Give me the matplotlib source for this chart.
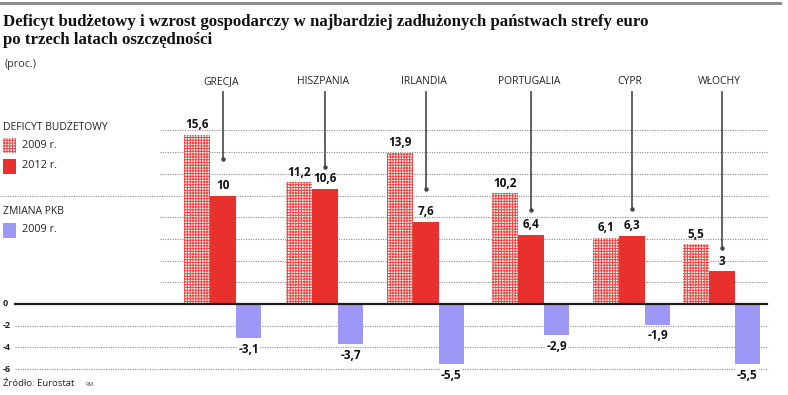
import matplotlib
matplotlib.use("Agg")
import matplotlib.pyplot as plt
from matplotlib.patches import Rectangle

# ---- data ----
countries = ["GRECJA", "HISZPANIA", "IRLANDIA", "PORTUGALIA", "CYPR", "WŁOCHY"]
deficit_2009 = [15.6, 11.2, 13.9, 10.2, 6.1, 5.5]
deficit_2012 = [10.0, 10.6, 7.6, 6.4, 6.3, 3.0]
gdp_2009 = [-3.1, -3.7, -5.5, -2.9, -1.9, -5.5]
ytick_vals = [0, -2, -4, -6]
ytick_labels = ["0", "-2", "-4", "-6"]
grid_pos = [2, 4, 6, 8, 10, 12, 14, 16]

# ---- layout ----
W, H = 788, 395
ZERO_PX = 304.0
PX_PER_UNIT = 10.85
group_left = [184, 286, 387, 492, 593, 683]
leader_end_px = [159, 167, 189, 210, 209, 248]
bw = 25.8

RED = "#e8302c"
BLUE = "#9d98f5"
GRID = "#8a8a8a"
SANS = ["Open Sans", "DejaVu Sans"]
SERIF = ["Liberation Serif", "DejaVu Serif"]

plt.rcParams["hatch.linewidth"] = 0.75

fig = plt.figure(figsize=(W / 100, H / 100), dpi=100)
ax = fig.add_axes([0, 0, 1, 1])
ax.set_xlim(0, W)
ax.set_ylim(-(H - ZERO_PX) / PX_PER_UNIT, ZERO_PX / PX_PER_UNIT)
ax.axis("off")


def v(py):
    """pixel row -> value units"""
    return (ZERO_PX - py) / PX_PER_UNIT


fmt = lambda x: (f"{x:g}").replace(".", ",")

# gridlines
for g in grid_pos:
    x0 = 0 if g == 10 else 160
    ax.plot([x0, 768], [g, g], color=GRID, lw=0.8, ls=(0, (1, 1.2)), zorder=1)
for t in ytick_vals[1:]:
    ax.plot([15, 768], [t, t], color=GRID, lw=0.8, ls=(0, (1, 1.2)), zorder=1)
ax.plot([15, 767], [0, 0], color="#1a1a1a", lw=1.6, zorder=4)

# bars
x_h = [l + bw / 2 for l in group_left]
x_r = [l + 1.5 * bw for l in group_left]
x_b = [l + 2.5 * bw for l in group_left]
ax.bar(x_h, deficit_2009, width=bw, facecolor="white", edgecolor="#ec4a46",
       hatch="++++++", linewidth=0, zorder=3)
ax.bar(x_r, deficit_2012, width=bw, color=RED, linewidth=0, zorder=3)
ax.bar(x_b, gdp_2009, width=bw, color=BLUE, linewidth=0, zorder=3)

# value labels
lab_kw = dict(fontsize=8.5, fontweight="bold", family=SANS, color="#111", zorder=6)
for xs, vals in ((x_h, deficit_2009), (x_r, deficit_2012)):
    for x, val in zip(xs, vals):
        ax.text(x, val + 0.35, fmt(val), ha="center", va="bottom", **lab_kw)
for x, val in zip(x_b, gdp_2009):
    ax.text(x, val - 0.45, fmt(val), ha="center", va="top",
            bbox=dict(facecolor="white", edgecolor="none", pad=0.6), **lab_kw)

# country labels and leader lines
for i, c in enumerate(countries):
    ax.text(x_r[i] - 2, v(82), c, ha="center", va="center", fontsize=7.5,
            family=SANS, color="#222")
    end = v(leader_end_px[i])
    ax.plot([x_r[i], x_r[i]], [v(92), end], color="#555", lw=1.3, zorder=5)
    ax.plot([x_r[i]], [end], marker="o", ms=2.2, color="#444", zorder=5)

# y tick labels
for t, s in zip(ytick_vals, ytick_labels):
    ax.text(3, t, s, ha="left", va="center", fontsize=6.5, fontweight="bold",
            family=SANS, color="#222")

# legend
ax.text(3, v(128), "DEFICYT BUDŻETOWY", ha="left", va="center", fontsize=7.5,
        family=SANS, color="#222")
ax.add_patch(Rectangle((3, v(153)), 13, v(138) - v(153), facecolor="white",
                       edgecolor="#ec4a46", hatch="++++++", linewidth=0))
ax.text(22, v(145), "2009 r.", ha="left", va="center", fontsize=7.8, family=SANS, color="#222")
ax.add_patch(Rectangle((3, v(174)), 13, v(159) - v(174), facecolor=RED, linewidth=0))
ax.text(22, v(166), "2012 r.", ha="left", va="center", fontsize=7.8, family=SANS, color="#222")
ax.text(3, v(212), "ZMIANA PKB", ha="left", va="center", fontsize=7.5,
        family=SANS, color="#222")
ax.add_patch(Rectangle((3, v(238)), 13, v(223) - v(238), facecolor=BLUE, linewidth=0))
ax.text(22, v(230), "2009 r.", ha="left", va="center", fontsize=7.8, family=SANS, color="#222")

# header / footer
fig.add_artist(plt.Line2D([0, 780 / W], [1 - 3 / H, 1 - 3 / H], color="#8c8c8c", lw=2.2))
fig.text(3 / W, 1 - 22 / H, "Deficyt budżetowy i wzrost gospodarczy w najbardziej zadłużonych państwach strefy euro",
         ha="left", va="center", fontsize=12.1, fontweight="bold", family=SERIF, color="#111")
fig.text(3 / W, 1 - 40 / H, "po trzech latach oszczędności",
         ha="left", va="center", fontsize=12.1, fontweight="bold", family=SERIF, color="#111")
fig.text(5 / W, 1 - 64 / H, "(proc.)", ha="left", va="center", fontsize=7.8, family=SANS, color="#333")
fig.text(3 / W, 1 - 384 / H, "Źródło: Eurostat", ha="left", va="center", fontsize=6.8, family=SANS, color="#222")
fig.text(85 / W, 1 - 385 / H, "RM", ha="left", va="center", fontsize=4, family=SANS, color="#444")

fig.savefig("out.png", dpi=100)
